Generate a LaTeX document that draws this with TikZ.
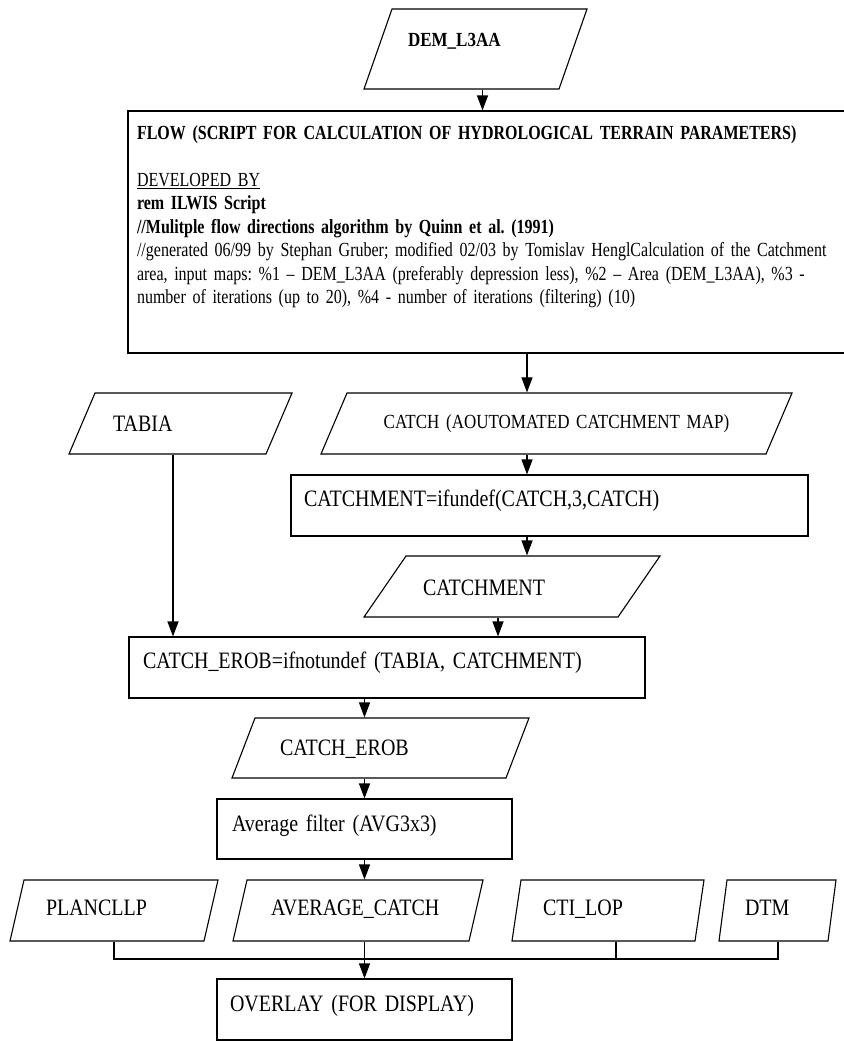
\documentclass[tikz,border=0pt]{standalone}
\usepackage{fontspec}
\setmainfont{Liberation Serif}[FakeStretch=0.85]
\newfontfamily\narrowfam{Liberation Serif}[FakeStretch=0.80]
\usepackage{tikz}
\usetikzlibrary{shapes.geometric,arrows.meta}

\newcommand\lblfont{\fontsize{23.5}{27}\selectfont}
\newcommand\bodyfont{\fontsize{20}{23.4}\selectfont}
\newcommand\flowfont{\narrowfam\fontsize{20}{23.4}\selectfont\frenchspacing}

\begin{document}
\begin{tikzpicture}[x=1pt, y=-1pt,
    box/.style={draw, rectangle, line width=1.1pt, inner ysep=0pt, align=left, font=\lblfont},
    io/.style 2 args={draw, trapezium, trapezium left angle=#1, trapezium right angle=#2,
        line width=1.1pt, inner ysep=0pt, align=left, font=\lblfont},
    arrow/.style={-{Triangle[length=15pt,width=11pt]}, line width=1.1pt},
    line/.style={line width=1.1pt}
]
\useasboundingbox (0,0) rectangle (843,1041);

% Input DEM and the FLOW script
\node[io={70.71}{109.29}, font=\bodyfont\bfseries, inner xsep=16pt, text width=135pt,
    text height=38pt, text depth=42pt] (dem) at (475.5,49) {DEM\_L3AA};
\node[box, font=\flowfont, inner xsep=9pt, text width=700pt,
    text height=28.6pt, text depth=213.4pt] (flow) at (487,232) {%
    \textbf{FLOW (SCRIPT FOR CALCULATION OF HYDROLOGICAL TERRAIN PARAMETERS)}\\[23.4pt]
    \underline{DEVELOPED BY}\\
    \textbf{rem ILWIS Script}\\
    \textbf{//Mulitple flow directions algorithm by Quinn et al. (1991)}\\
    \mbox{//generated 06/99 by Stephan Gruber; modified 02/03 by Tomislav HenglCalculation of the Catchment}\\
    \mbox{area, input maps: \%1 – DEM\_L3AA (preferably depression less), \%2 – Area (DEM\_L3AA), \%3 -}\\
    \mbox{number of iterations (up to 20), \%4 - number of iterations (filtering) (10)}};

% Catchment maps
\node[io={66.91}{113.09}, font=\bodyfont, align=center, inner xsep=0pt, text width=419pt,
    text height=35.6pt, text depth=25.4pt] (catch) at (556.5,423.5) {CATCH (AOUTOMATED CATCHMENT MAP)};
\node[io={66.91}{113.09}, inner xsep=18pt, text width=135pt,
    text height=38pt, text depth=23pt] (tabia) at (180.5,423.5) {TABIA};
\node[box, inner xsep=13pt, text width=491pt, text height=31pt, text depth=30pt]
    (ifundef) at (549.5,505.5) {CATCHMENT=ifundef(CATCH,3,CATCH)};
\node[io={55.45}{124.55}, inner xsep=17pt, text width=178pt,
    text height=39.8pt, text depth=21.2pt] (catchment) at (512,586.5) {CATCHMENT};
\node[box, inner xsep=14pt, text width=488pt, text height=31pt, text depth=30pt]
    (ifnotundef) at (387,667.5) {CATCH\_EROB=ifnotundef (TABIA, CATCHMENT)};
\node[io={69.03}{110.97}, inner xsep=25pt, text width=201pt,
    text height=37.8pt, text depth=22.2pt] (erob) at (380.5,748) {CATCH\_EROB};
\node[box, inner xsep=15pt, text width=265pt, text height=32pt, text depth=28pt]
    (avgfilter) at (364.5,829) {Average filter (AVG3x3)};

% Layers for the overlay
\node[io={77.07}{102.93}, inner xsep=22pt, text width=136pt,
    text height=35pt, text depth=26pt] (plancllp) at (114,910.5) {PLANCLLP};
\node[io={77.07}{102.93}, inner xsep=24pt, text width=174pt,
    text height=35pt, text depth=26pt] (avgcatch) at (358,910.5) {AVERAGE\_CATCH};
\node[io={81.61}{98.39}, inner xsep=22pt, text width=130pt,
    text height=35pt, text depth=26pt] (ctilop) at (608,910.5) {CTI\_LOP};
\node[io={82.53}{97.47}, inner xsep=18pt, text width=65pt,
    text height=35pt, text depth=26pt] (dtm) at (777.5,910.5) {DTM};
\node[box, inner xsep=13pt, text width=269pt, text height=32pt, text depth=29pt]
    (overlay) at (364.5,1009.5) {OVERLAY (FOR DISPLAY)};

% Flow arrows
\draw[arrow] (dem.south -| 482.5,0) -- (flow.north -| 482.5,0);
\draw[arrow] (flow.south -| 527,0) -- (catch.north -| 527,0);
\draw[arrow] (catch.south -| 527,0) -- (ifundef.north -| 527,0);
\draw[arrow] (ifundef.south -| 527,0) -- (catchment.north -| 527,0);
\draw[arrow] (catchment.south -| 498,0) -- (ifnotundef.north -| 498,0);
\draw[arrow] (tabia.south -| 173,0) -- (ifnotundef.north -| 173,0);
\draw[arrow] (ifnotundef.south -| 364.5,0) -- (erob.north -| 364.5,0);
\draw[arrow] (erob.south -| 364.5,0) -- (avgfilter.north -| 364.5,0);
\draw[arrow] (avgfilter.south -| 364.5,0) -- (avgcatch.north -| 364.5,0);

% Merge into the overlay
\coordinate (bus) at (364.5,959);
\draw[line] (plancllp.south -| 114,0) |- (bus);
\draw[line] (dtm.south -| 778,0) |- (bus);
\draw[line] (ctilop.south -| 616,0) -- (bus -| 616,0);
\draw[arrow] (avgcatch.south -| 364.5,0) -- (overlay.north -| 364.5,0);

\end{tikzpicture}
\end{document}
